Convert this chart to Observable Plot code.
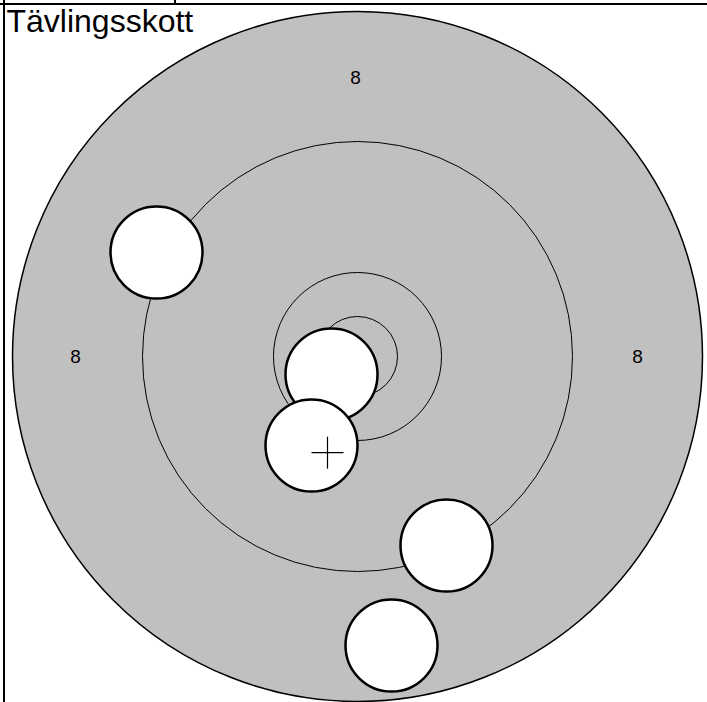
<!DOCTYPE html>
<html><head><meta charset="utf-8">
<script src="https://cdn.jsdelivr.net/npm/d3@7"></script>
<script src="https://cdn.jsdelivr.net/npm/@observablehq/plot@0.6"></script>
<style>
html,body{margin:0;padding:0;background:#fff;}
#wrap{position:relative;width:707px;height:702px;overflow:hidden;}
#chart{position:absolute;left:0;top:0;}
.bl{position:absolute;background:#000;}
</style>
</head><body>
<div id="wrap"><div id="chart"></div>
<div class="bl" style="left:0;top:3px;width:707px;height:2px;"></div>
<div class="bl" style="left:3px;top:0;width:2px;height:702px;"></div>
<div class="bl" style="left:174px;top:0;width:2px;height:4px;"></div>
</div>
<script>
const title = "Tävlingsskott";
// ring radii (target units, centre at 0,0)
const ringRadii = [345, 215, 84, 40];
// ring number labels
const ringLabels = ["8", "8", "8"];
const labelX = [-2, -282, 280];
const labelY = [279, 0, 0];
// shot positions
const shotX = [-201, -26, -46, 89, 34];
const shotY = [104, -18, -89, -189, -289];
const shotRadius = 46;

const rings = ringRadii.map((r, i) => ({x: 0, y: 0, r, outer: i === 0}));
const labels = ringLabels.map((t, i) => ({t, x: labelX[i], y: labelY[i]}));
const shots = shotX.map((x, i) => ({x, y: shotY[i]}));
const mx = d3.mean(shots, d => d.x), my = d3.mean(shots, d => d.y);
const crossHalf = 16;

const font = "Liberation Sans, Arial, Helvetica, sans-serif";
const marks = [];
rings.forEach(rg => {
  marks.push(Plot.dot([rg], {x: "x", y: "y", r: rg.r,
    fill: rg.outer ? "#c0c0c0" : "none", stroke: "#000",
    strokeWidth: rg.outer ? 1.5 : 1}));
});
marks.push(Plot.text(labels, {x: "x", y: "y", text: "t", fontSize: 19, fontFamily: font, fill: "#000"}));
shots.forEach(s => {
  marks.push(Plot.dot([s], {x: "x", y: "y", r: shotRadius, fill: "#fff", stroke: "#000", strokeWidth: 2.5}));
});
marks.push(Plot.link([{x1: mx - crossHalf, x2: mx + crossHalf, y1: my, y2: my},
                      {x1: mx, x2: mx, y1: my - crossHalf, y2: my + crossHalf}],
  {x1: "x1", x2: "x2", y1: "y1", y2: "y2", stroke: "#000", strokeWidth: 1.2}));
marks.push(Plot.text([title], {frameAnchor: "top-left", dx: 6, dy: 9, fontSize: 32, fontFamily: font, fill: "#000"}));

const chart = Plot.plot({
  width: 707, height: 702,
  margin: 0,
  x: {domain: [-357, 350], range: [0, 707], axis: null},
  y: {domain: [-346, 356], range: [702, 0], axis: null},
  style: {background: "transparent", overflow: "visible"},
  marks
});
document.getElementById("chart").appendChild(chart);
</script>
</body></html>
